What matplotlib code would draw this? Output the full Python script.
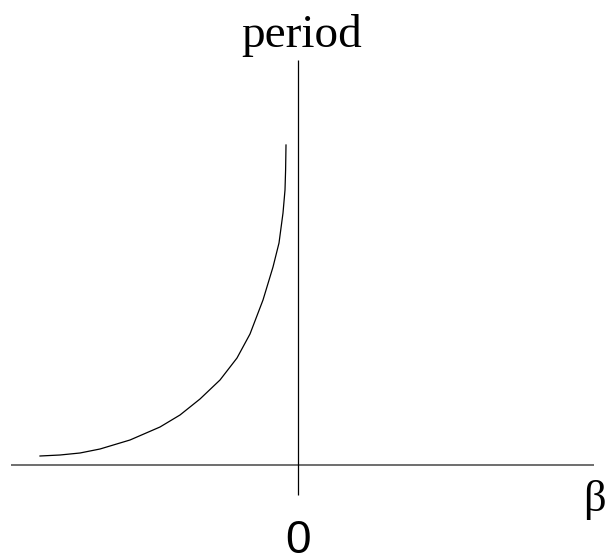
import matplotlib
matplotlib.use("Agg")
import matplotlib.pyplot as plt

# period as a function of beta, sampled along the branch left of the origin
beta = [-2.58, -2.38, -2.18, -1.98, -1.68, -1.38, -1.18, -0.98, -0.78,
        -0.61, -0.48, -0.35, -0.25, -0.19, -0.15, -0.13, -0.124, -0.12]
period = [0.085, 0.095, 0.115, 0.155, 0.245, 0.375, 0.495, 0.655, 0.845,
          1.065, 1.305, 1.645, 1.975, 2.215, 2.515, 2.745, 2.945, 3.195]

x_label = "β"
y_label = "period"
origin_label = "0"

fig = plt.figure(figsize=(6.08, 5.59), dpi=100)
ax = fig.add_axes([0, 0, 1, 1])
ax.set_xlim(-2.98, 3.10)
ax.set_ylim(-0.945, 4.645)
ax.axis("off")

# coordinate axes
ax.plot([-2.87, 2.96], [0, 0], color="#555555", lw=1.2, solid_capstyle="butt")
ax.plot([0, 0], [-0.305, 4.045], color="black", lw=0.9, solid_capstyle="butt")

ax.plot(beta, period, color="black", lw=0.9, solid_joinstyle="round")

ax.text(0.035, 4.175, y_label, family="Liberation Serif", fontsize=34,
        ha="center", va="baseline")
ax.text(2.96, -0.46, x_label, family="Liberation Serif", fontsize=32,
        ha="center", va="baseline")
ax.text(0.0, -0.885, origin_label, family="Liberation Sans", fontsize=33,
        ha="center", va="baseline")

fig.savefig("out.png", dpi=100)
